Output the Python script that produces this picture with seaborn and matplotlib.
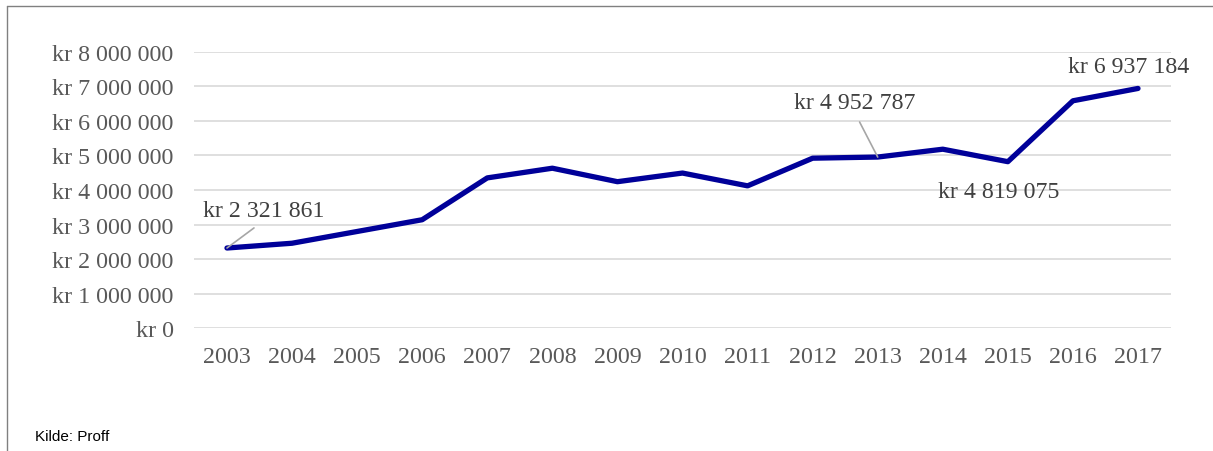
import matplotlib
matplotlib.use("Agg")
import matplotlib.pyplot as plt
import matplotlib.ticker as mticker
from matplotlib.lines import Line2D
import seaborn as sns
import pandas as pd

years = [str(y) for y in range(2003, 2018)]
revenue = [2321861, 2460000, 2800000, 3140000, 4350000, 4630000, 4240000,
           4490000, 4120000, 4920000, 4952787, 5180000, 4819075, 6580000,
           6937184]

# which points get a value label, and where (offset in pixels from the point)
labelled = {"2003": (37, 38, True), "2013": (-23, 55, True),
            "2015": (-9, -30, False), "2017": (-9, 22, False)}

df = pd.DataFrame({"year": years, "revenue": revenue})


def kr(v):
    return "kr " + f"{int(round(v)):,}".replace(",", " ")


sns.set_style("white")
plt.rcParams["font.family"] = ["Liberation Serif", "DejaVu Serif"]

fig = plt.figure(figsize=(12.13, 4.52), dpi=100)
ax = fig.add_axes([0.1603, 0.2715, 0.8047, 0.6119])

sns.lineplot(data=df, x="year", y="revenue", ax=ax, color="#000099",
             linewidth=3.8, solid_capstyle="round", solid_joinstyle="round",
             zorder=3)

ax.set_xlim(-0.5, len(years) - 0.5)
ax.set_ylim(0, 8000000)
ax.yaxis.set_major_locator(mticker.MultipleLocator(1000000))
ax.yaxis.set_major_formatter(mticker.FuncFormatter(lambda v, p: kr(v)))
ax.grid(axis="y", color="#d9d9d9", linewidth=1.2)
ax.set_axisbelow(True)
for s in ax.spines.values():
    s.set_visible(False)
ax.tick_params(axis="both", length=0, labelsize=17.3, colors="#595959")
ax.tick_params(axis="x", pad=13)
ax.tick_params(axis="y", pad=15)
ax.set_xlabel("")
ax.set_ylabel("")

for i, (yr, val) in enumerate(zip(years, revenue)):
    if yr not in labelled:
        continue
    dx, dy, leader = labelled[yr]
    props = None
    if leader:
        props = dict(arrowstyle="-", color="#a6a6a6", lw=1.2,
                     relpos=(0.5, 0), shrinkA=5, shrinkB=0)
    ax.annotate(kr(val), xy=(i, val), xytext=(dx, dy),
                textcoords="offset pixels", ha="center", va="center",
                fontsize=17.2, color="#404040", arrowprops=props,
                annotation_clip=False)

# outer frame (left and top edges)
fig.add_artist(Line2D([7 / 1213, 7 / 1213], [0, 1 - 7 / 452],
                      transform=fig.transFigure, color="#808080", lw=1))
fig.add_artist(Line2D([7 / 1213, 1], [1 - 7 / 452, 1 - 7 / 452],
                      transform=fig.transFigure, color="#808080", lw=1))

fig.text(35 / 1213, 1 - 437 / 452, "Kilde: Proff", fontsize=11,
         family=["Liberation Sans", "DejaVu Sans"], color="black",
         va="center", ha="left")

fig.savefig("out.png", dpi=100)
